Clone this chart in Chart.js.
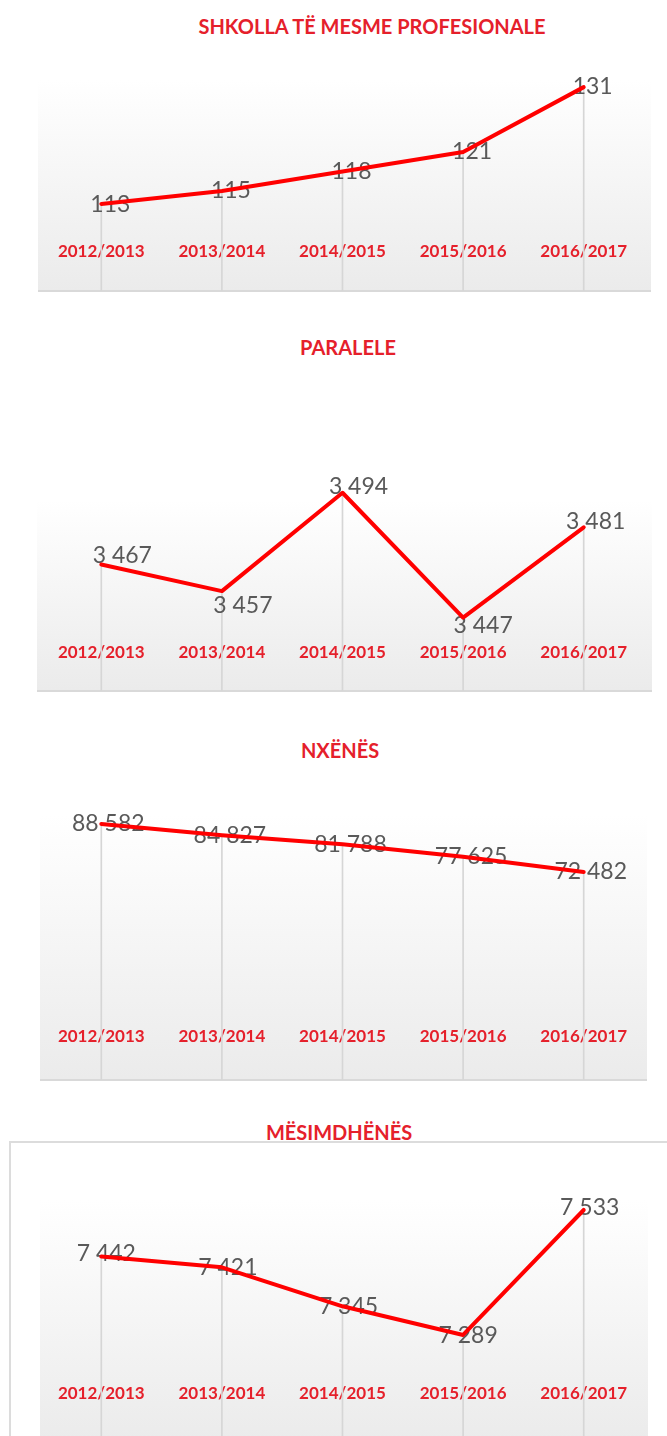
<!DOCTYPE html>
<html><head><meta charset="utf-8">
<script src="https://cdn.jsdelivr.net/npm/chart.js@4"></script>
<style>
html{overflow:hidden}
html,body{margin:0;padding:0;background:#fff;}
body{width:667px;height:1436px;overflow:hidden;position:relative;font-family:Lato,sans-serif}
.t{position:absolute;transform:translate(-50%,-50%);font-family:Lato,sans-serif;font-weight:700;font-size:20px;color:#e5202b;white-space:nowrap;line-height:1}
.bg{position:absolute;background:linear-gradient(#ffffff,#ebebeb);}
.bb{border-bottom:2px solid #d9d9d9}
.frame{position:absolute;left:9px;top:1141px;width:658px;height:300px;border-top:2px solid #dcdcdc;border-left:2px solid #dcdcdc;box-sizing:border-box}
canvas{position:absolute;left:0}
</style></head>
<body>
<div class="frame"></div>
<div class="bg bb" style="left:38px;top:80px;width:613px;height:210px"></div>
<div class="bg bb" style="left:37px;top:500px;width:615px;height:190px"></div>
<div class="bg bb" style="left:40px;top:815px;width:607px;height:264px"></div>
<div class="bg" style="left:40px;top:1200px;width:608px;height:240px"></div>
<div id="titles"></div>
<canvas id="c0"></canvas>
<canvas id="c1"></canvas>
<canvas id="c2"></canvas>
<canvas id="c3"></canvas>
<script>
// ---- data ----
const categories = ['2012/2013', '2013/2014', '2014/2015', '2015/2016', '2016/2017'];
const titles = ['SHKOLLA TË MESME PROFESIONALE', 'PARALELE', 'NXËNËS', 'MËSIMDHËNËS'];
const shkollaValues = [113, 115, 118, 121, 131];
const paraleleValues = [3467, 3457, 3494, 3447, 3481];
const nxenesValues = [88582, 84827, 81788, 77625, 72482];
const mesimdhenesValues = [7442, 7421, 7345, 7289, 7533];

// ---- layout / style ----
const RED = '#e5202b';
const specs = [
  {values: shkollaValues, titleX: 372, titleY: 26, top: 80, bottom: 291, min: 99.57, max: 132.1, tickPad: 29.1,
   offsets: [[9,1],[9,0],[9,0],[9,0],[9,-1]]},
  {values: paraleleValues, titleX: 348, titleY: 347, top: 480, bottom: 691, min: 3419.4, max: 3498.8, tickPad: 28.5,
   offsets: [[21,-9],[21,14],[16,-6],[20,8],[12,-6]]},
  {values: nxenesValues, titleX: 340, titleY: 750, top: 800, bottom: 1080, min: 2707, max: 96633, tickPad: 33.1,
   offsets: [[7,0],[8,0],[8,0],[8,0],[7,0]]},
  {values: mesimdhenesValues, titleX: 339, titleY: 1132, top: 1200, bottom: 1440, min: 7084, max: 7552.5, tickPad: 35.8,
   offsets: [[5,-3],[6,0],[6,0],[5,1],[6,-2]]}
];

function fmt(v) { return String(v).replace(/\B(?=(\d{3})+(?!\d))/g, '\u00a0'); }

const valueLabels = {
  id: 'valueLabels',
  afterDatasetDraw(chart, args, opts) {
    if (args.index !== 0) return;
    const meta = chart.getDatasetMeta(1);
    const ds = chart.data.datasets[1];
    const ctx = chart.ctx;
    ctx.save();
    ctx.font = '23px Lato, sans-serif';
    ctx.fillStyle = '#595959';
    ctx.textAlign = 'center';
    ctx.textBaseline = 'middle';
    meta.data.forEach((pt, i) => {
      const o = opts.offsets[i];
      ctx.fillText(fmt(ds.data[i]), pt.x + o[0], pt.y + o[1]);
    });
    ctx.restore();
  }
};

const titleBox = document.getElementById('titles');
specs.forEach((s, k) => {
  const d = document.createElement('div');
  d.className = 't';
  d.textContent = titles[k];
  d.style.left = s.titleX + 'px';
  d.style.top = s.titleY + 'px';
  titleBox.appendChild(d);

  const padTop = 30, padBottom = 3;
  const cv = document.getElementById('c' + k);
  const cTop = s.top - padTop;
  const cH = s.bottom + padBottom - cTop;
  cv.width = 667; cv.height = cH;
  cv.style.top = cTop + 'px';
  cv.style.width = '667px'; cv.style.height = cH + 'px';

  new Chart(cv, {
    type: 'bar',
    data: {
      labels: categories,
      datasets: [
        {type: 'bar', data: s.values, backgroundColor: '#d6d6d6', barThickness: 1, order: 2},
        {type: 'line', data: s.values, borderColor: '#ff0000', borderWidth: 4, pointRadius: 0,
         tension: 0, order: 1, clip: false, borderCapStyle: 'round', borderJoinStyle: 'round'}
      ]
    },
    options: {
      responsive: false,
      animation: false,
      devicePixelRatio: 1,
      layout: {padding: {left: 41, right: 23, top: padTop, bottom: padBottom}},
      plugins: {legend: {display: false}, tooltip: {enabled: false}, title: {display: false},
                valueLabels: {offsets: s.offsets}},
      scales: {
        x: {
          offset: true,
          grid: {display: false, drawTicks: false},
          border: {display: false},
          ticks: {mirror: true, padding: s.tickPad, color: RED, maxRotation: 0, autoSkip: false,
                  font: {family: 'Lato, sans-serif', weight: 'bold', size: 17}},
          afterFit(sc) { sc.height = 0; }
        },
        y: {display: false, min: s.min, max: s.max}
      }
    },
    plugins: [valueLabels]
  });
});
</script>
</body></html>
